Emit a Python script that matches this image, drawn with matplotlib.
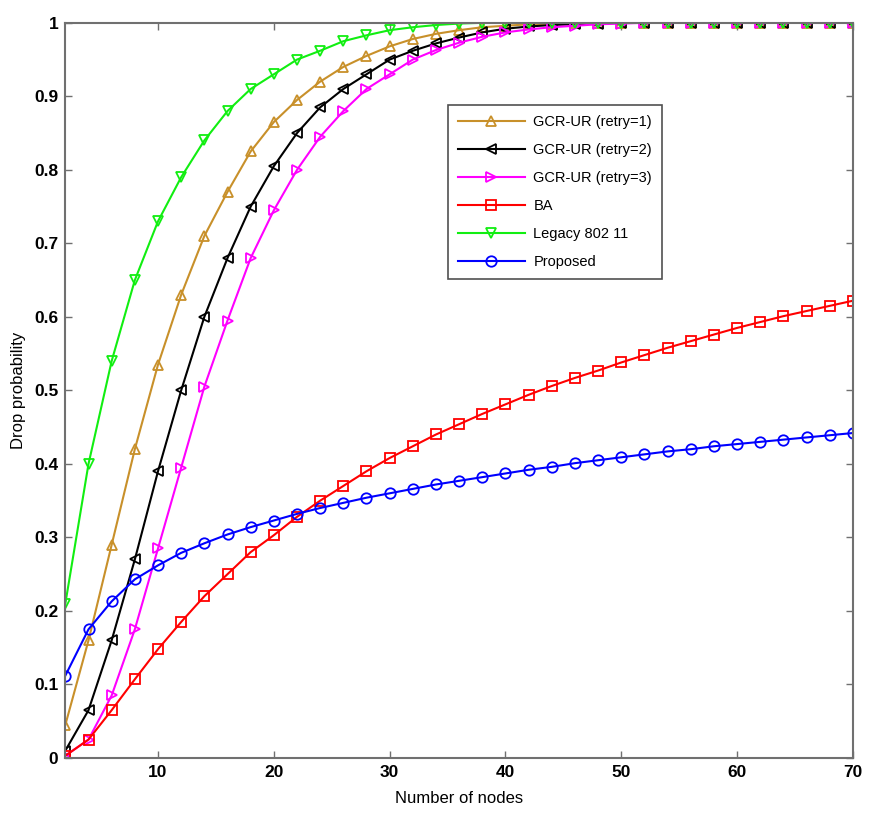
import numpy as np
import matplotlib.pyplot as plt
from matplotlib.ticker import FormatStrFormatter

nodes = list(range(2, 71, 2))

retry1 = [0.045, 0.16, 0.29, 0.42, 0.535, 0.63, 0.71, 0.77, 0.825, 0.865,
          0.895, 0.92, 0.94, 0.955, 0.968, 0.978, 0.985, 0.99, 0.994, 0.996,
          0.998, 0.999, 1.0, 1.0, 1.0, 1.0, 1.0, 1.0, 1.0, 1.0,
          1.0, 1.0, 1.0, 1.0, 1.0]
retry2 = [0.01, 0.065, 0.16, 0.27, 0.39, 0.50, 0.60, 0.68, 0.75, 0.805,
          0.85, 0.885, 0.91, 0.93, 0.95, 0.962, 0.972, 0.98, 0.987, 0.992,
          0.995, 0.997, 0.998, 0.999, 1.0, 1.0, 1.0, 1.0, 1.0, 1.0,
          1.0, 1.0, 1.0, 1.0, 1.0]
retry3 = [0.003, 0.025, 0.085, 0.175, 0.285, 0.395, 0.505, 0.595, 0.68, 0.745,
          0.80, 0.845, 0.88, 0.91, 0.93, 0.95, 0.963, 0.973, 0.981, 0.987,
          0.991, 0.994, 0.996, 0.998, 0.999, 1.0, 1.0, 1.0, 1.0, 1.0,
          1.0, 1.0, 1.0, 1.0, 1.0]
ba = [0.003, 0.025, 0.065, 0.107, 0.148, 0.185, 0.22, 0.25, 0.28, 0.303,
      0.328, 0.35, 0.37, 0.39, 0.408, 0.424, 0.44, 0.454, 0.468, 0.481,
      0.494, 0.506, 0.517, 0.527, 0.538, 0.548, 0.558, 0.567, 0.576, 0.585,
      0.593, 0.601, 0.608, 0.615, 0.622]
legacy = [0.21, 0.40, 0.54, 0.65, 0.73, 0.79, 0.84, 0.88, 0.91, 0.93,
          0.95, 0.962, 0.975, 0.983, 0.99, 0.994, 0.997, 0.999, 1.0, 1.0,
          1.0, 1.0, 1.0, 1.0, 1.0, 1.0, 1.0, 1.0, 1.0, 1.0,
          1.0, 1.0, 1.0, 1.0, 1.0]
proposed = [0.112, 0.175, 0.213, 0.243, 0.262, 0.279, 0.292, 0.304, 0.314, 0.323,
            0.332, 0.34, 0.347, 0.354, 0.36, 0.366, 0.372, 0.377, 0.382, 0.387,
            0.392, 0.396, 0.401, 0.405, 0.409, 0.413, 0.417, 0.42, 0.424, 0.427,
            0.43, 0.433, 0.436, 0.439, 0.442]

plt.rcParams['font.family'] = ['Liberation Sans', 'DejaVu Sans']

fig = plt.figure(figsize=(8.83, 8.15), dpi=100)
ax = fig.add_axes([0.074, 0.070, 0.892, 0.902])

ms = 7.5
lw = 1.5
ax.plot(nodes, retry1, color='#c8902a', marker='^', mfc='none', ms=ms, lw=lw, mew=1.3,
        label='GCR-UR (retry=1)')
ax.plot(nodes, retry2, color='black', marker='<', mfc='none', ms=ms, lw=lw, mew=1.3,
        label='GCR-UR (retry=2)')
ax.plot(nodes, retry3, color='#ff00ff', marker='>', mfc='none', ms=ms, lw=lw, mew=1.3,
        label='GCR-UR (retry=3)')
ax.plot(nodes, ba, color='#ff0000', marker='s', mfc='none', ms=ms, lw=lw, mew=1.3,
        label='BA')
ax.plot(nodes, legacy, color='#11ee11', marker='v', mfc='none', ms=ms, lw=lw, mew=1.3,
        label='Legacy 802 11')
ax.plot(nodes, proposed, color='#0000ff', marker='o', mfc='none', ms=ms, lw=lw, mew=1.3,
        label='Proposed')

ax.set_xlim(2, 70)
ax.set_ylim(0, 1)
ax.set_xticks([10, 20, 30, 40, 50, 60, 70])
ax.set_yticks(np.arange(0, 1.01, 0.1))
ax.yaxis.set_major_formatter(FormatStrFormatter('%g'))
ax.tick_params(direction='in', top=True, right=True, length=5, width=1,
               color='#707070', labelsize=12.5, pad=5)
for lab in ax.get_xticklabels() + ax.get_yticklabels():
    lab.set_fontweight('bold')
for sp in ax.spines.values():
    sp.set_color('#707070')
    sp.set_linewidth(1.5)

ax.set_xlabel('Number of nodes', fontsize=12, labelpad=8)
ax.set_ylabel('Drop probability', fontsize=12, labelpad=6)

leg = ax.legend(loc='upper left', bbox_to_anchor=(448 / 883, 1 - 105 / 815),
                bbox_transform=fig.transFigure, fancybox=False, framealpha=1,
                edgecolor='#505050', borderaxespad=0, fontsize=10.5,
                handlelength=4.6, handletextpad=0.6, labelspacing=0.97,
                borderpad=0.66)
leg.get_frame().set_linewidth(1.2)

fig.savefig('out.png', dpi=100)
